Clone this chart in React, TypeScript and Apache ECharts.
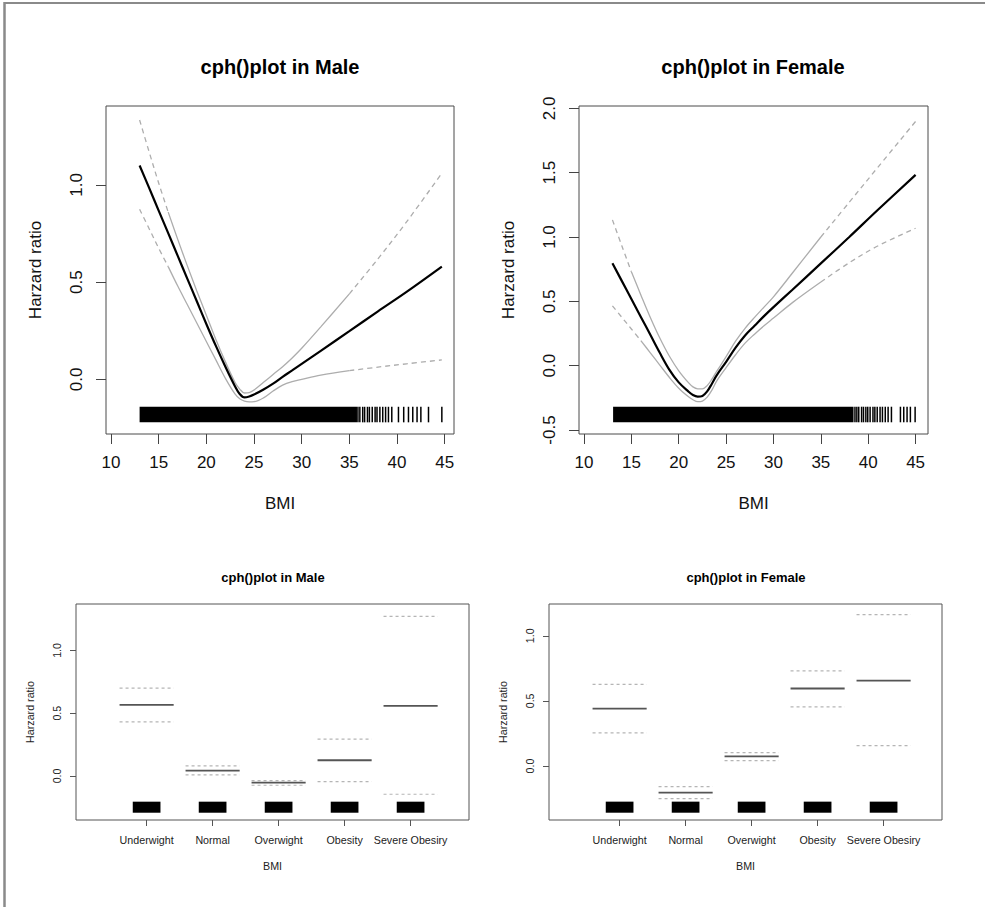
import React, { useEffect, useRef } from "react";
import * as echarts from "echarts";

const FONT = '"Liberation Sans", Arial, Helvetica, sans-serif';

// ---------- Top-left: continuous BMI, Male ----------
const maleBmi = [13, 14, 15, 16, 17, 18, 19, 20, 21, 22, 23, 23.5, 24, 24.5, 25, 26, 27, 28, 29, 30, 32, 35, 38, 41, 44.7];
const maleCenter = [1.1, 0.985, 0.868, 0.752, 0.635, 0.518, 0.402, 0.285, 0.172, 0.065, -0.035, -0.075, -0.093, -0.088, -0.078, -0.052, -0.022, 0.013, 0.046, 0.08, 0.147, 0.248, 0.35, 0.45, 0.58];
const maleUpper = [1.334, 1.17, 1.01, 0.86, 0.72, 0.585, 0.455, 0.33, 0.205, 0.09, -0.015, -0.05, -0.07, -0.068, -0.055, -0.015, 0.025, 0.065, 0.11, 0.16, 0.27, 0.44, 0.62, 0.81, 1.06];
const maleLower = [0.875, 0.775, 0.675, 0.58, 0.48, 0.385, 0.29, 0.195, 0.1, 0.005, -0.075, -0.1, -0.112, -0.116, -0.115, -0.095, -0.06, -0.03, -0.012, 0.0, 0.022, 0.045, 0.063, 0.08, 0.1];
const maleRugBand = [13.0, 35.8];
const maleRugTicks = [35.9, 36.1, 36.4, 36.6, 36.9, 37.1, 37.4, 37.7, 37.9, 38.2, 38.5, 38.8, 39.1, 39.45, 40.15, 40.7, 41.2, 41.65, 42.1, 42.5, 43.3, 44.7];

// ---------- Top-right: continuous BMI, Female ----------
const femaleBmi = [13, 14, 15, 16, 17, 18, 19, 20, 21, 21.5, 22, 22.5, 23, 23.5, 24, 25, 26, 27, 28, 29, 30, 32, 35, 38, 41, 45];
const femaleCenter = [0.796, 0.657, 0.518, 0.379, 0.24, 0.1, -0.03, -0.13, -0.2, -0.228, -0.24, -0.235, -0.2, -0.14, -0.075, 0.03, 0.14, 0.235, 0.31, 0.385, 0.455, 0.59, 0.795, 1.0, 1.21, 1.483];
const femaleUpper = [1.133, 0.93, 0.73, 0.55, 0.375, 0.215, 0.075, -0.04, -0.13, -0.165, -0.18, -0.18, -0.155, -0.105, -0.045, 0.07, 0.19, 0.29, 0.375, 0.455, 0.535, 0.72, 1.0, 1.27, 1.54, 1.898];
const femaleLower = [0.465, 0.375, 0.285, 0.195, 0.1, 0.005, -0.09, -0.175, -0.24, -0.265, -0.28, -0.275, -0.245, -0.19, -0.12, -0.015, 0.085, 0.175, 0.245, 0.31, 0.37, 0.49, 0.65, 0.8, 0.93, 1.068];
const femaleRugBand = [13.07, 38.45];
const femaleRugTicks = [38.6, 38.8, 39.0, 39.3, 39.5, 39.75, 39.95, 40.2, 40.5, 40.7, 40.95, 41.25, 41.5, 41.8, 42.1, 42.45, 43.4, 43.75, 44.1, 44.45, 44.95];

// ---------- Bottom: categorical BMI ----------
const categories = ["Underwight", "Normal", "Overwight", "Obesity", "Severe Obesiry"];
const maleCatCenter = [0.566, 0.043, -0.053, 0.125, 0.559];
const maleCatUpper = [0.699, 0.08, -0.037, 0.293, 1.271];
const maleCatLower = [0.431, 0.008, -0.074, -0.045, -0.146];
const femaleCatCenter = [0.441, -0.205, 0.074, 0.595, 0.656];
const femaleCatUpper = [0.626, -0.159, 0.103, 0.731, 1.162];
const femaleCatLower = [0.254, -0.251, 0.041, 0.454, 0.156];

// tick labels
const bmiTicks = [10, 15, 20, 25, 30, 35, 40, 45];
const maleYTicks = [0, 0.5, 1.0];
const femaleYTicks = [-0.5, 0, 0.5, 1.0, 1.5, 2.0];
const catYTicks = [0, 0.5, 1.0];
const catPositions = [1, 2, 3, 4, 5];

const TITLE_TOP = "cph()plot in Male";
const TITLE_TOP_F = "cph()plot in Female";

function pick(xs: number[], ys: number[], lo: number, hi: number) {
  return xs.map((x, i) => [x, ys[i]]).filter((p) => p[0] >= lo && p[0] <= hi);
}

const CI_COLOR = "#adadad";

function ciSeries(g: number, xs: number[], ys: number[], s1: number, s2: number) {
  const base = {
    type: "line",
    xAxisIndex: g,
    yAxisIndex: g,
    showSymbol: false,
    symbol: "none",
    smooth: 0.35,
    silent: true,
    z: 2,
  };
  return [
    { ...base, data: pick(xs, ys, -Infinity, s1), lineStyle: { color: CI_COLOR, width: 1.3, type: [5, 4] } },
    { ...base, data: pick(xs, ys, s1, s2), lineStyle: { color: CI_COLOR, width: 1.3 } },
    { ...base, data: pick(xs, ys, s2, Infinity), lineStyle: { color: CI_COLOR, width: 1.3, type: [5, 4] } },
  ];
}

function centerSeries(g: number, xs: number[], ys: number[]) {
  return {
    type: "line",
    xAxisIndex: g,
    yAxisIndex: g,
    showSymbol: false,
    symbol: "none",
    smooth: 0.35,
    silent: true,
    z: 3,
    data: xs.map((x, i) => [x, ys[i]]),
    lineStyle: { color: "#000", width: 2.2 },
  };
}

function rugBand(g: number, band: number[], yTop: number, yBot: number) {
  return {
    type: "custom",
    xAxisIndex: g,
    yAxisIndex: g,
    silent: true,
    data: [[band[0], band[1]]],
    renderItem: (_p: any, api: any) => {
      const a = api.coord([api.value(0), yTop]);
      const b = api.coord([api.value(1), yBot]);
      return { type: "rect", shape: { x: a[0], y: a[1], width: b[0] - a[0], height: b[1] - a[1] }, style: { fill: "#000" } };
    },
  };
}

function rugTicks(g: number, ticks: number[], yTop: number, yBot: number, w: number) {
  return {
    type: "custom",
    xAxisIndex: g,
    yAxisIndex: g,
    silent: true,
    data: ticks.map((t) => [t, yTop]),
    renderItem: (_p: any, api: any) => {
      const x = api.value(0);
      const a = api.coord([x, yTop]);
      const b = api.coord([x, yBot]);
      return { type: "line", shape: { x1: a[0], y1: a[1], x2: b[0], y2: b[1] }, style: { stroke: "#000", lineWidth: w } };
    },
  };
}

const HALF = 0.41;
function segSeries(g: number, vals: number[], color: string, width: number, dash?: number[]) {
  return {
    type: "custom",
    xAxisIndex: g,
    yAxisIndex: g,
    silent: true,
    z: 3,
    data: vals.map((v, i) => [catPositions[i], v]),
    renderItem: (_p: any, api: any) => {
      const i = api.value(0);
      const v = api.value(1);
      const a = api.coord([i - HALF, v]);
      const b = api.coord([i + HALF, v]);
      return {
        type: "line",
        shape: { x1: a[0], y1: a[1], x2: b[0], y2: b[1] },
        style: { stroke: color, lineWidth: width, lineDash: dash || null },
      };
    },
  };
}

function catRug(g: number, yTop: number, yBot: number) {
  return {
    type: "custom",
    xAxisIndex: g,
    yAxisIndex: g,
    silent: true,
    data: catPositions.map((p) => [p, yTop]),
    renderItem: (_p: any, api: any) => {
      const i = api.value(0);
      const a = api.coord([i - 0.21, yTop]);
      const b = api.coord([i + 0.21, yBot]);
      return { type: "rect", shape: { x: a[0], y: a[1], width: b[0] - a[0], height: b[1] - a[1] }, style: { fill: "#000" } };
    },
  };
}

const fmt1 = (v: number) => v.toFixed(1);

function topX(g: number, min: number, max: number) {
  return {
    type: "value",
    gridIndex: g,
    min,
    max,
    axisLine: { show: false, onZero: false },
    axisTick: { show: true, customValues: bmiTicks, length: 10, lineStyle: { color: "#444", width: 1 } },
    axisLabel: { customValues: bmiTicks, fontSize: 17, color: "#111", margin: 20, fontFamily: FONT },
    splitLine: { show: false },
    name: "BMI",
    nameLocation: "middle",
    nameGap: 61,
    nameTextStyle: { fontSize: 17, color: "#111", fontFamily: FONT },
  };
}

function topY(g: number, min: number, max: number, ticks: number[]) {
  return {
    type: "value",
    gridIndex: g,
    min,
    max,
    axisLine: { show: false, onZero: false },
    axisTick: { show: true, customValues: ticks, length: 10, lineStyle: { color: "#444", width: 1 } },
    axisLabel: { customValues: ticks, fontSize: 17, color: "#111", margin: 21, rotate: 90, formatter: fmt1, fontFamily: FONT },
    splitLine: { show: false },
    name: "Harzard ratio",
    nameLocation: "middle",
    nameRotate: 90,
    nameGap: 62,
    nameTextStyle: { fontSize: 17, color: "#111", fontFamily: FONT },
  };
}

function botX(g: number) {
  return {
    type: "value",
    gridIndex: g,
    min: -0.07,
    max: 5.885,
    axisLine: { show: false, onZero: false },
    axisTick: { show: true, customValues: catPositions, length: 6, lineStyle: { color: "#555", width: 1 } },
    axisLabel: {
      customValues: catPositions,
      fontSize: 10.7,
      color: "#222",
      margin: 14,
      fontFamily: FONT,
      formatter: (v: number) => categories[Math.round(v) - 1],
    },
    splitLine: { show: false },
    name: "BMI",
    nameLocation: "middle",
    nameGap: 40,
    nameTextStyle: { fontSize: 10.7, color: "#222", fontFamily: FONT },
  };
}

function botY(g: number, min: number, max: number) {
  return {
    type: "value",
    gridIndex: g,
    min,
    max,
    axisLine: { show: false, onZero: false },
    axisTick: { show: true, customValues: catYTicks, length: 6, lineStyle: { color: "#555", width: 1 } },
    axisLabel: { customValues: catYTicks, fontSize: 10.7, color: "#222", margin: 14, rotate: 90, formatter: fmt1, fontFamily: FONT },
    splitLine: { show: false },
    name: "Harzard ratio",
    nameLocation: "middle",
    nameRotate: 90,
    nameGap: 41,
    nameTextStyle: { fontSize: 10.7, color: "#222", fontFamily: FONT },
  };
}

const gridBase = { show: true, borderColor: "#4a4a4a", borderWidth: 1, backgroundColor: "transparent", containLabel: false, outerBoundsMode: "none" };

export default function App() {
  const ref = useRef<HTMLDivElement>(null);
  useEffect(() => {
    if (!ref.current) return;
    const chart = echarts.init(ref.current, null, { renderer: "svg" });
    const titleStyle = (size: number) => ({ fontSize: size, fontWeight: "bold", color: "#000", fontFamily: FONT });
    const option: any = {
      animation: false,
      backgroundColor: "#fff",
      textStyle: { fontFamily: FONT },
      title: [
        { text: TITLE_TOP, left: 280, top: 57, textAlign: "center", padding: 0, textStyle: titleStyle(20) },
        { text: TITLE_TOP_F, left: 753, top: 57, textAlign: "center", padding: 0, textStyle: titleStyle(20) },
        { text: TITLE_TOP, left: 273, top: 571, textAlign: "center", padding: 0, textStyle: titleStyle(13) },
        { text: TITLE_TOP_F, left: 746, top: 571, textAlign: "center", padding: 0, textStyle: titleStyle(13) },
      ],
      grid: [
        { ...gridBase, left: 106, top: 106, width: 348, height: 328 },
        { ...gridBase, left: 579, top: 106, width: 349, height: 328 },
        { ...gridBase, left: 76, top: 604, width: 393, height: 216, borderColor: "#555" },
        { ...gridBase, left: 549, top: 604, width: 393, height: 216, borderColor: "#555" },
      ],
      xAxis: [topX(0, 9.476, 45.975), topX(1, 9.471, 46.31), botX(2), botX(3)],
      yAxis: [
        topY(0, -0.281, 1.406, maleYTicks),
        topY(1, -0.531, 2.018, femaleYTicks),
        botY(2, -0.351, 1.37),
        botY(3, -0.415, 1.244),
      ],
      graphic: [
        { type: "line", shape: { x1: 4, y1: 3, x2: 985, y2: 3 }, style: { stroke: "#8a8a8a", lineWidth: 2 } },
        { type: "line", shape: { x1: 4.5, y1: 2, x2: 4.5, y2: 907 }, style: { stroke: "#8a8a8a", lineWidth: 2.5 } },
      ],
      series: [
        ...ciSeries(0, maleBmi, maleUpper, 16, 35),
        ...ciSeries(0, maleBmi, maleLower, 16, 35),
        centerSeries(0, maleBmi, maleCenter),
        rugBand(0, maleRugBand, -0.141, -0.221),
        rugTicks(0, maleRugTicks, -0.141, -0.221, 1.5),

        ...ciSeries(1, femaleBmi, femaleUpper, 15, 35),
        ...ciSeries(1, femaleBmi, femaleLower, 16, 35),
        centerSeries(1, femaleBmi, femaleCenter),
        rugBand(1, femaleRugBand, -0.319, -0.44),
        rugTicks(1, femaleRugTicks, -0.319, -0.44, 1.5),

        segSeries(2, maleCatUpper, "#b5b5b5", 1.2, [3, 3]),
        segSeries(2, maleCatLower, "#b5b5b5", 1.2, [3, 3]),
        segSeries(2, maleCatCenter, "#555", 1.8),
        catRug(2, -0.205, -0.293),

        segSeries(3, femaleCatUpper, "#b5b5b5", 1.2, [3, 3]),
        segSeries(3, femaleCatLower, "#b5b5b5", 1.2, [3, 3]),
        segSeries(3, femaleCatCenter, "#555", 1.8),
        catRug(3, -0.274, -0.359),
      ],
    };
    chart.setOption(option);
    return () => chart.dispose();
  }, []);
  return <div ref={ref} style={{ position: "absolute", left: 0, top: 0, width: 985, height: 907 }} />;
}
